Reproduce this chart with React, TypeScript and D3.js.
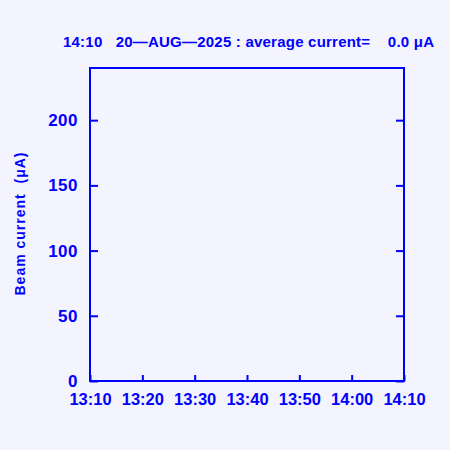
import * as d3 from 'd3';
import React, { useRef, useEffect } from 'react';

const xTickLabels = ['13:10', '13:20', '13:30', '13:40', '13:50', '14:00', '14:10'];
const yTicks = [0, 50, 100, 150, 200];
const yMax = 240;
const titleText = '14:10\u00A0\u00A0\u00A020\u2014AUG\u20142025 : average current=\u00A0\u00A0\u00A0\u00A00.0 \u03BCA';
const yLabel = 'Beam current\u00A0\u00A0(\u03BCA)';

const W = 450, H = 450;
const margin = { top: 68, right: 46, bottom: 69, left: 90 };
const blue = '#0000ff';
const font = '"Liberation Sans", Arial, sans-serif';

const App = () => {
  const ref = useRef<SVGSVGElement | null>(null);

  useEffect(() => {
    const svg = d3.select(ref.current);
    svg.selectAll('*').remove();

    const x = d3.scalePoint<string>()
      .domain(xTickLabels)
      .range([margin.left, W - margin.right]);
    const y = d3.scaleLinear()
      .domain([0, yMax])
      .range([H - margin.bottom, margin.top]);

    svg.append('rect').attr('width', W).attr('height', H).attr('fill', '#f4f4fe');

    // box
    svg.append('rect')
      .attr('x', margin.left).attr('y', margin.top)
      .attr('width', W - margin.left - margin.right)
      .attr('height', H - margin.top - margin.bottom)
      .attr('fill', 'none').attr('stroke', blue).attr('stroke-width', 2);

    // bottom axis, ticks inward
    const gx = svg.append('g')
      .attr('transform', 'translate(0,' + (H - margin.bottom) + ')')
      .call(d3.axisBottom(x).tickSizeInner(-6).tickSizeOuter(0).tickPadding(12));
    gx.select('.domain').remove();
    gx.selectAll('line').attr('stroke', blue).attr('stroke-width', 2);
    gx.selectAll('text').attr('fill', blue).style('font-size', '16.5px')
      .style('font-weight', 'bold').style('font-family', font);

    // left axis
    const gy = svg.append('g')
      .attr('transform', 'translate(' + margin.left + ',0)')
      .call(d3.axisLeft(y).tickValues(yTicks).tickSizeInner(-8).tickSizeOuter(0).tickPadding(12));
    gy.select('.domain').remove();
    gy.selectAll('line').attr('stroke', blue).attr('stroke-width', 2);
    gy.selectAll('text').attr('fill', blue).style('font-size', '17px')
      .style('letter-spacing', '0.5px')
      .style('font-weight', 'bold').style('font-family', font);

    // right axis ticks
    const gr = svg.append('g')
      .attr('transform', 'translate(' + (W - margin.right) + ',0)')
      .call(d3.axisRight(y).tickValues(yTicks).tickSizeInner(-8).tickSizeOuter(0).tickFormat(() => ''));
    gr.select('.domain').remove();
    gr.selectAll('line').attr('stroke', blue).attr('stroke-width', 2);

    svg.append('text')
      .attr('x', 63).attr('y', 47)
      .attr('fill', blue)
      .attr('textLength', 371)
      .style('font-size', '15px').style('font-weight', 'bold').style('font-family', font)
      .text(titleText);

    svg.append('text')
      .attr('transform', 'translate(25,' + 224 + ') rotate(-90)')
      .attr('text-anchor', 'middle')
      .attr('fill', blue)
      .attr('textLength', 143)
      .style('font-size', '14px').style('font-weight', 'bold').style('font-family', font)
      .text(yLabel);
  }, []);

  return (
    <svg ref={ref} width={W} height={H}
      style={{ display: 'block', position: 'absolute', left: 0, top: 0 }}></svg>
  );
};

export default App;
